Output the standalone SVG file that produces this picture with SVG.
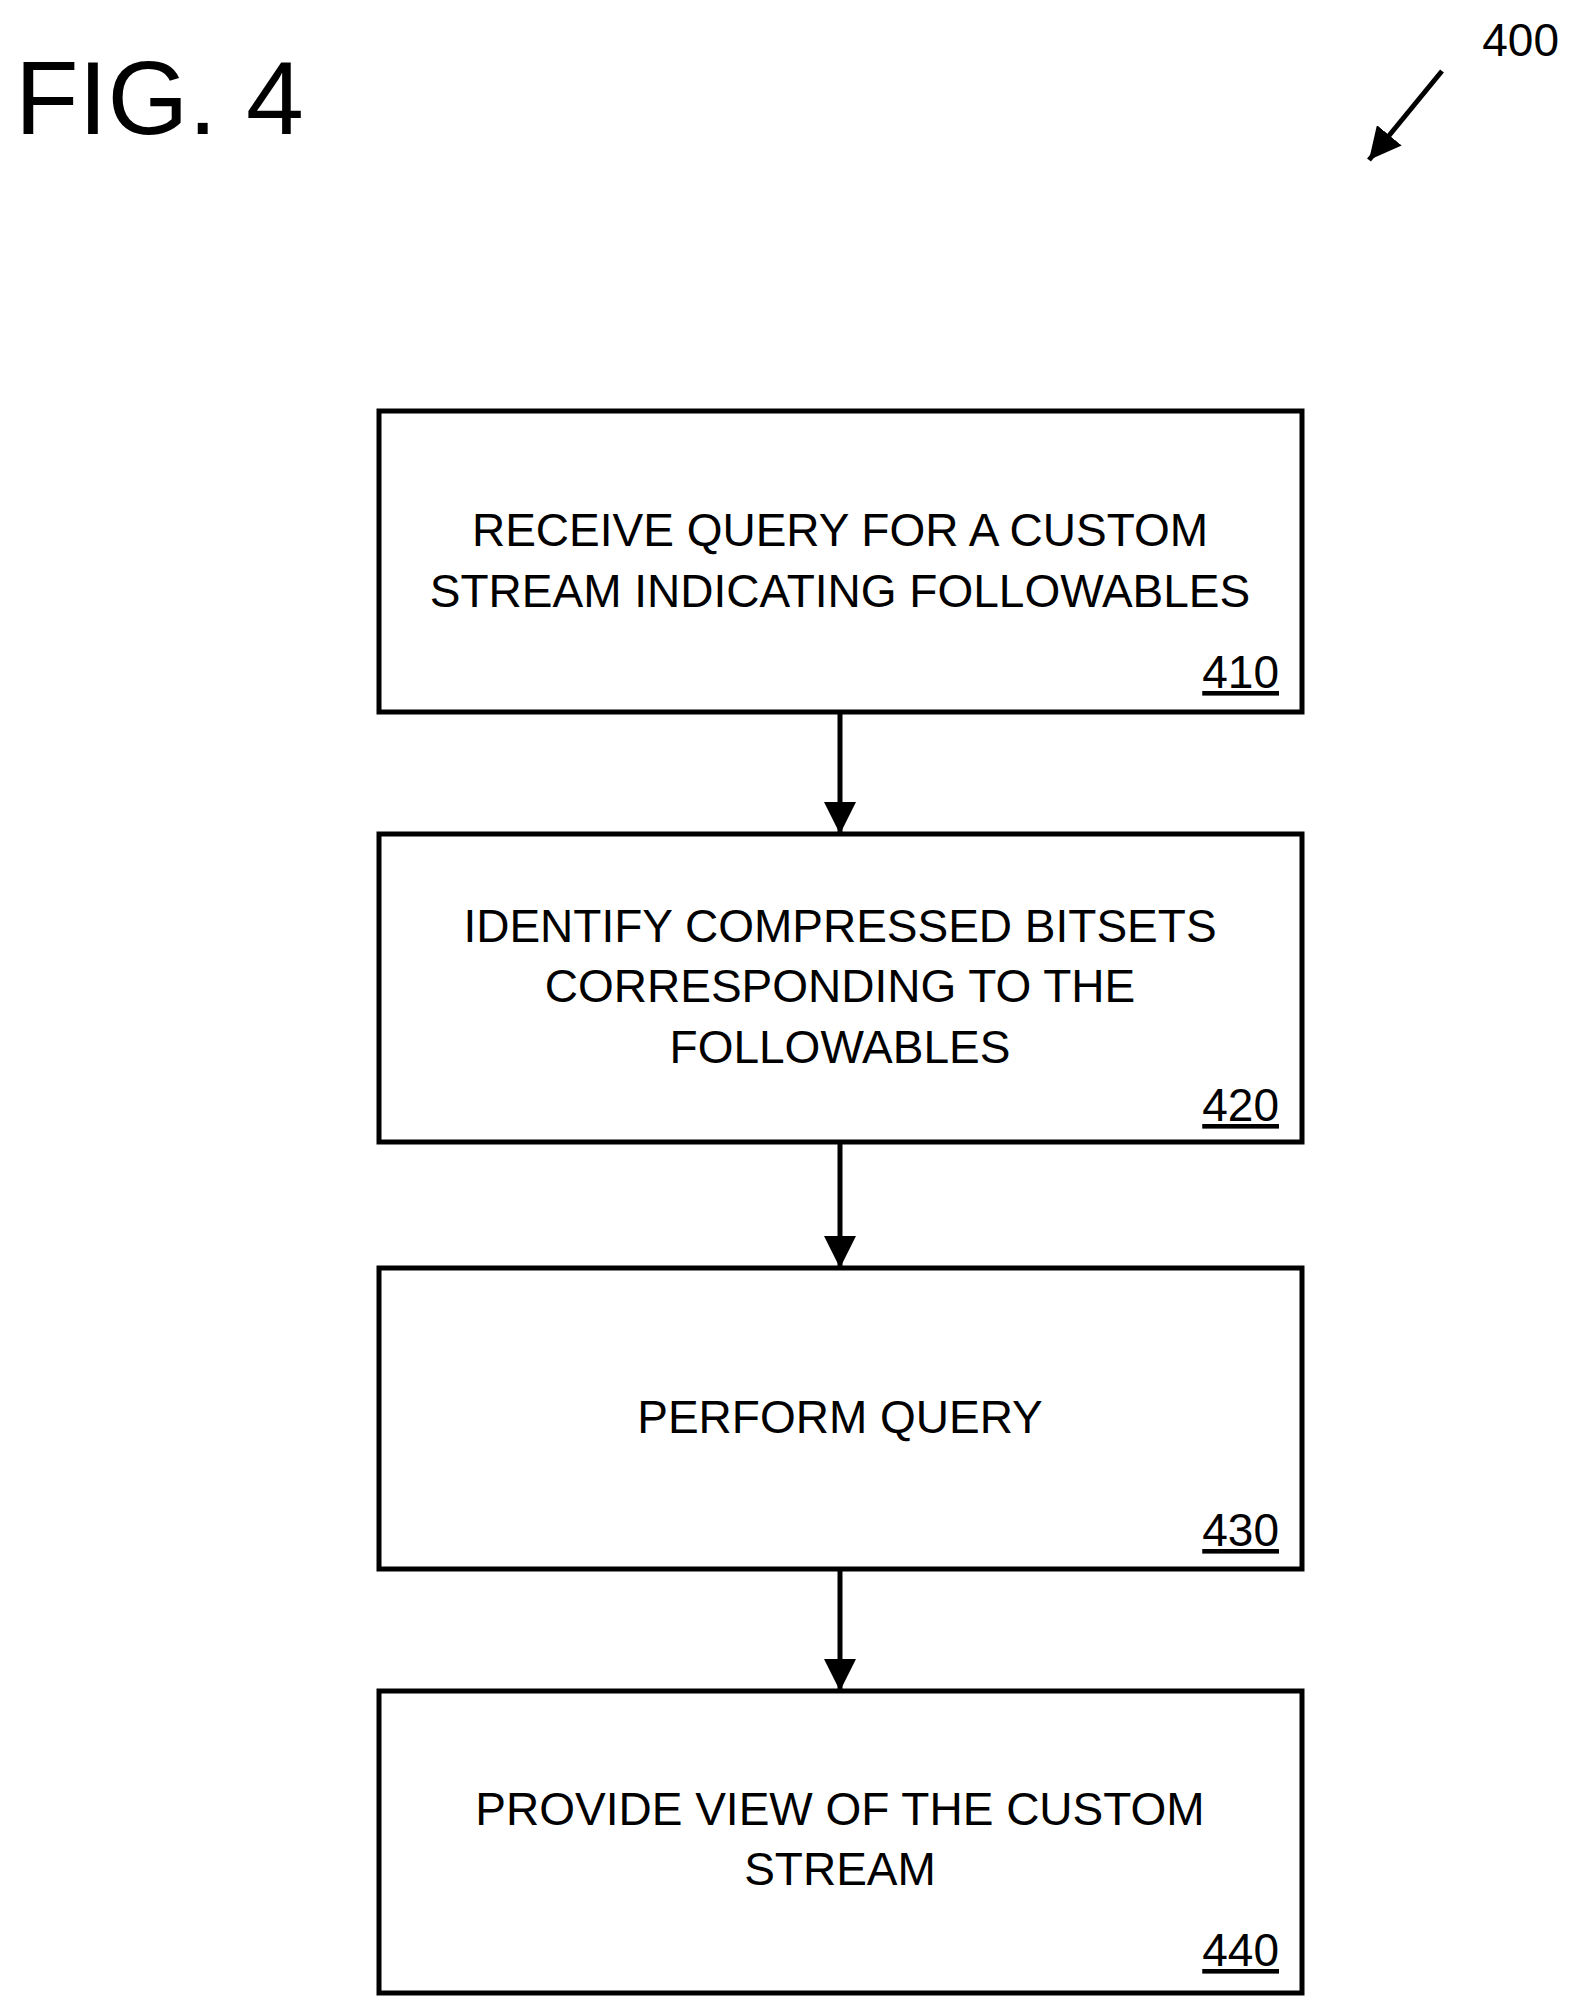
<svg xmlns="http://www.w3.org/2000/svg" width="1578" height="2015" viewBox="0 0 1578 2015">
<style>
text{font-family:"Liberation Sans",Arial,sans-serif;fill:#000}
.t{font-size:46px;text-anchor:middle}
.n{font-size:46px;text-anchor:end;text-decoration:underline}
rect{fill:#fff;stroke:#000;stroke-width:5}
.c{stroke:#000;stroke-width:5;fill:none}
</style>
<defs><marker id="a" markerWidth="8" markerHeight="8" refX="7" refY="4" orient="auto" markerUnits="userSpaceOnUse" viewBox="0 0 8 8"><path d="M0,0 L8,4 L0,8z" fill="#000"/></marker>
<marker id="h" viewBox="0 0 10 10" refX="10" refY="5" markerWidth="32" markerHeight="32" markerUnits="userSpaceOnUse" orient="auto"><path d="M0,0 L10,5 L0,10z" fill="#000"/></marker></defs>
<text x="15" y="134" style="font-size:104px">FIG. 4</text>
<text x="1559" y="56" style="font-size:46px;text-anchor:end">400</text>
<g id="n410"><rect x="379" y="411" width="923" height="301"/><text class="t" x="840" y="546">RECEIVE QUERY FOR A CUSTOM</text><text class="t" x="840" y="607">STREAM INDICATING FOLLOWABLES</text><text class="n" x="1279" y="688">410</text></g>
<g id="n420"><rect x="379" y="834" width="923" height="308"/><text class="t" x="840" y="942">IDENTIFY COMPRESSED BITSETS</text><text class="t" x="840" y="1002">CORRESPONDING TO THE</text><text class="t" x="840" y="1063">FOLLOWABLES</text><text class="n" x="1279" y="1121">420</text></g>
<g id="n430"><rect x="379" y="1268" width="923" height="301"/><text class="t" x="840" y="1433">PERFORM QUERY</text><text class="n" x="1279" y="1546">430</text></g>
<g id="n440"><rect x="379" y="1691" width="923" height="302"/><text class="t" x="840" y="1825">PROVIDE VIEW OF THE CUSTOM</text><text class="t" x="840" y="1885">STREAM</text><text class="n" x="1279" y="1966">440</text></g>
<g id="connectors">
<line class="c" x1="840" y1="712" x2="840" y2="834" marker-end="url(#h)"/>
<line class="c" x1="840" y1="1142" x2="840" y2="1268" marker-end="url(#h)"/>
<line class="c" x1="840" y1="1569" x2="840" y2="1691" marker-end="url(#h)"/>
<line class="c" x1="1442" y1="71" x2="1369" y2="160" marker-end="url(#h)"/>
</g>
</svg>
